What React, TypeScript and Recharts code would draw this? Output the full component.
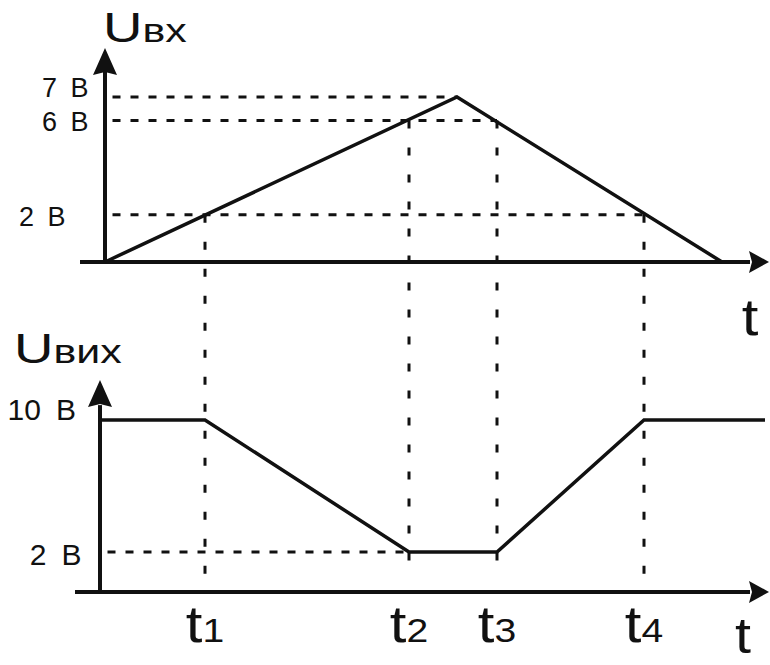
import { ComposedChart, Line, XAxis, YAxis, ReferenceLine, ReferenceDot } from 'recharts';

// time marks t1..t4, shared by both plots
const timeMarks = [2, 6.08, 7.84, 10.78];
const timeSubs = ['1', '2', '3', '4'];
// input level where each time mark starts (crossing of the input ramp)
const timeMarkLevels = [2, 6, 6, 2];

// input voltage Uвх
const inputTimes = [0, 7.04, 12.34];
const inputValues = [0, 7, 0];

// output voltage Uвих
const outputTimes = [-0.1, 2, 6.08, 7.84, 10.78, 13.2];
const outputValues = [10, 10, 2, 2, 10, 10];

// marked levels and where their guides stop
const inputLevels = [7, 6, 2];
const inputLevelEnds = [7.04, 7.84, 10.78];
const outputLevels = [10, 2];
const outputLevelEnds = [2, 6.08];
const unit = 'B';

const inputData = inputTimes.map((t, i) => ({ t, u: inputValues[i] }));
const outputData = outputTimes.map((t, i) => ({ t, u: outputValues[i] }));

// layout
const W = 770;
const H = 665;
const INK = '#111';
const FONT = '"Liberation Sans", Arial, sans-serif';
const X_DOMAIN: [number, number] = [-2.1, 13.3];
const IN_DOMAIN: [number, number] = [-17.1, 11.115];
const OUT_DOMAIN: [number, number] = [-4.85, 35.45];
const OUT_BASE = -0.42; // where the lower time axis sits
const GUIDE_BOTTOM = -13.4; // lower end of the vertical guides (input units)
const X_END = 12.9;
const X_TIP = 13.28;

// per-label nudges (dx, dy) for the level labels
const inputLabelShift = [[-24, 0], [-24, 10], [-47, 11]];
const outputLabelShift = [[-24, 0], [-26, 13]];

const boxOf = (p: any) => p.viewBox ?? { x: 0, y: 0, width: 0, height: 0 };

const levelLabel = (text: string, dx: number, dy: number, size: number) => (p: any) => {
  const { x, y } = boxOf(p);
  return (
    <text x={x + dx} y={y + dy} textAnchor="end" fontSize={size} fontFamily={FONT} fill={INK}>
      {text}
    </text>
  );
};

// the source lettering is noticeably wider than Liberation Sans, so stretch it a bit
const timeLabel = (sub: string) => (p: any) => {
  const { x, y, height } = boxOf(p);
  return (
    <g transform={`translate(${x},${y + height + 64}) scale(1.15,1)`}>
      <text x={0} y={0} textAnchor="middle" fontSize={52} fontFamily={FONT} fill={INK}>
        t<tspan fontSize={34}>{sub}</tspan>
      </text>
    </g>
  );
};

const titleLabel = (main: string, sub: string, dx: number, dy: number) => (p: any) => {
  const { x, y } = boxOf(p);
  return (
    <g transform={`translate(${x + dx},${y + dy}) scale(1.3,1)`}>
      <text x={0} y={0} fontSize={42} fontFamily={FONT} fill={INK}>
        {main}
        <tspan fontSize={33}>{sub}</tspan>
      </text>
    </g>
  );
};

const endLabel = (text: string, dx: number, dy: number, size: number) => (p: any) => {
  const { x, y, width } = boxOf(p);
  return (
    <g transform={`translate(${x + width + dx},${y + dy}) scale(1.15,1)`}>
      <text x={0} y={0} textAnchor="middle" fontSize={size} fontFamily={FONT} fill={INK}>
        {text}
      </text>
    </g>
  );
};

const Arrowhead = ({ cx, cy, dir }: any) => {
  if (cx == null || cy == null) return null;
  const pts =
    dir === 'up'
      ? `${cx},${cy} ${cx - 12},${cy + 27} ${cx},${cy + 24} ${cx + 12},${cy + 27}`
      : `${cx},${cy} ${cx - 20},${cy - 11} ${cx - 17},${cy} ${cx - 20},${cy + 11}`;
  return <polygon points={pts} fill={INK} />;
};

const hDash = '8 10';
const vDash = '8 19';

export default function App() {
  return (
    <div style={{ position: 'absolute', left: 0, top: 0, width: W, height: H, background: '#fff' }}>
      <ComposedChart width={W} height={H} margin={{ top: 0, right: 0, bottom: 0, left: 0 }}>
        <XAxis type="number" dataKey="t" domain={X_DOMAIN} allowDataOverflow hide />
        <YAxis yAxisId="in" type="number" domain={IN_DOMAIN} allowDataOverflow hide />
        <YAxis yAxisId="out" type="number" domain={OUT_DOMAIN} allowDataOverflow hide />

        {/* level guides, input */}
        {inputLevels.map((lv, i) => (
          <ReferenceLine
            key={`il${i}`}
            yAxisId="in"
            segment={[{ x: 0.15, y: lv }, { x: inputLevelEnds[i], y: lv }]}
            stroke={INK}
            strokeWidth={3}
            strokeDasharray={hDash}
            label={levelLabel(`${lv}\u2002${unit}`, inputLabelShift[i][0], inputLabelShift[i][1], 27)}
          />
        ))}

        {/* level guides, output */}
        {outputLevels.map((lv, i) => (
          <ReferenceLine
            key={`ol${i}`}
            yAxisId="out"
            segment={[{ x: i === 0 ? -0.1 : 0.05, y: lv }, { x: outputLevelEnds[i], y: lv }]}
            stroke={i === 0 ? 'none' : INK}
            strokeWidth={3}
            strokeDasharray={hDash}
            label={levelLabel(`${lv}\u2002${unit}`, outputLabelShift[i][0], outputLabelShift[i][1], 30)}
          />
        ))}

        {/* time marks */}
        {timeMarks.map((tm, i) => (
          <ReferenceLine
            key={`tm${i}`}
            yAxisId="in"
            segment={[{ x: tm, y: timeMarkLevels[i] }, { x: tm, y: GUIDE_BOTTOM }]}
            stroke={INK}
            strokeWidth={3}
            strokeDasharray={vDash}
            label={timeLabel(timeSubs[i])}
          />
        ))}

        {/* axes, upper plot */}
        <ReferenceLine
          yAxisId="in"
          segment={[{ x: -0.5, y: 0 }, { x: X_END, y: 0 }]}
          stroke={INK}
          strokeWidth={4}
          label={endLabel('t', 0, 73, 52)}
        />
        <ReferenceLine
          yAxisId="in"
          segment={[{ x: 0, y: 0 }, { x: 0, y: 8.2 }]}
          stroke={INK}
          strokeWidth={4}
          label={titleLabel('U', 'вх', -2, -27)}
        />
        <ReferenceDot yAxisId="in" x={X_TIP} y={0} r={1} shape={(p: any) => <Arrowhead {...p} dir="right" />} />
        <ReferenceDot yAxisId="in" x={0} y={9.08} r={1} shape={(p: any) => <Arrowhead {...p} dir="up" />} />

        {/* axes, lower plot */}
        <ReferenceLine
          yAxisId="out"
          segment={[{ x: -0.6, y: OUT_BASE }, { x: X_END, y: OUT_BASE }]}
          stroke={INK}
          strokeWidth={4}
          label={endLabel('t', -7, 61, 50)}
        />
        <ReferenceLine
          yAxisId="out"
          segment={[{ x: -0.1, y: OUT_BASE }, { x: -0.1, y: 10.9 }]}
          stroke={INK}
          strokeWidth={4}
          label={titleLabel('U', 'вих', -86, -42)}
        />
        <ReferenceDot yAxisId="out" x={X_TIP} y={OUT_BASE} r={1} shape={(p: any) => <Arrowhead {...p} dir="right" />} />
        <ReferenceDot yAxisId="out" x={-0.1} y={12.42} r={1} shape={(p: any) => <Arrowhead {...p} dir="up" />} />

        <Line
          yAxisId="in"
          data={inputData}
          dataKey="u"
          type="linear"
          stroke={INK}
          strokeWidth={3.5}
          dot={false}
          activeDot={false}
          isAnimationActive={false}
        />
        <Line
          yAxisId="out"
          data={outputData}
          dataKey="u"
          type="linear"
          stroke={INK}
          strokeWidth={3.5}
          dot={false}
          activeDot={false}
          isAnimationActive={false}
        />
      </ComposedChart>
    </div>
  );
}
